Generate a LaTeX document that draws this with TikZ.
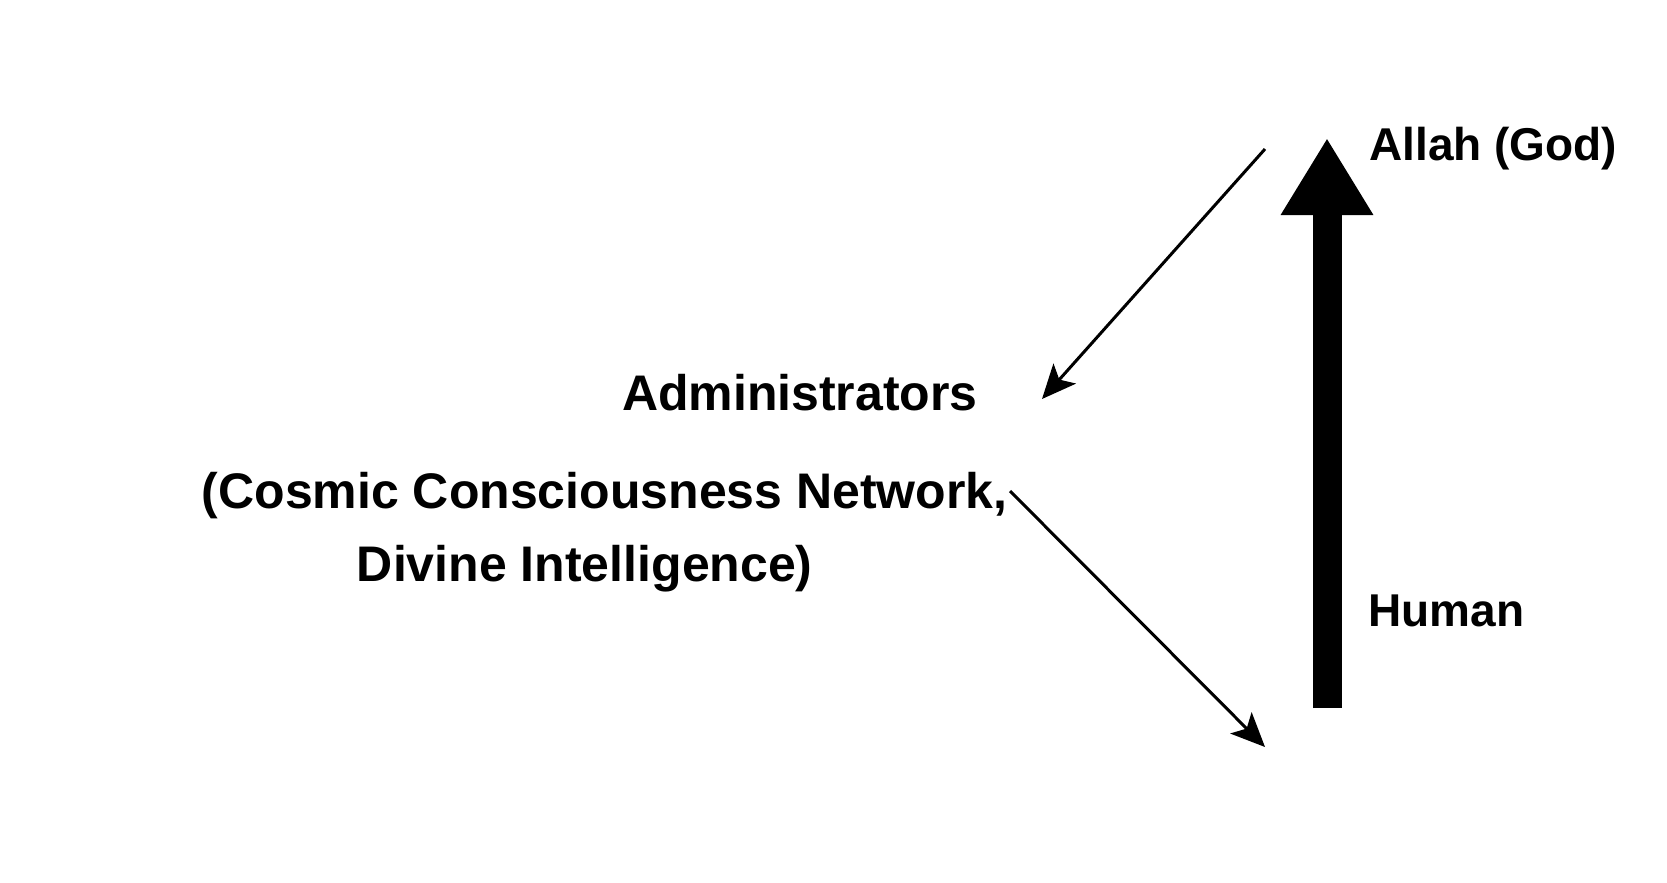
\documentclass[tikz,border=0pt]{standalone}
\usepackage{fontspec}
\setmainfont{Liberation Sans}
\usetikzlibrary{arrows.meta}
\tikzset{every picture/.style={line width=0.75pt}}
\tikzset{
  lbl/.style={inner sep=0pt, font=\bfseries\fontsize{50}{60}\selectfont},
  small lbl/.style={inner sep=0pt, font=\bfseries\fontsize{46}{55}\selectfont},
  thin arrow/.style={line width=3pt, -{Stealth[length=34pt,width=30pt,inset=8pt]}},
  thick arrow/.style={line width=29pt, -{Triangle[length=77pt,width=87pt]}}
}
\begin{document}
\begin{tikzpicture}[x=1pt,y=1pt,yscale=-1,xscale=1]
\useasboundingbox (0,0) rectangle (1667,883);

% labels
\node [small lbl, anchor=west] (allah) at (1369,149) {Allah (God)};
\node [small lbl, anchor=west] (human) at (1368,611) {Human};
\node [lbl, anchor=east] (admin) at (978,393) {Administrators};
\node [lbl, anchor=east] (cosmic) at (1008,496) {(Cosmic Consciousness Network,};
\node [lbl, anchor=east] (divine) at (813,569) {Divine Intelligence)};

% arrow ends
\coordinate (topstart) at (1265,149);
\coordinate (topend) at (1042,399);
\coordinate (botstart) at (1010,491);
\coordinate (botend) at (1265,747);
\coordinate (upbottom) at (1327,708);
\coordinate (uptop) at (1327,138);

\draw [thin arrow] (topstart) -- (topend);
\draw [thin arrow] (botstart) -- (botend);
\draw [thick arrow] (upbottom) -- (uptop);

\end{tikzpicture}
\end{document}
